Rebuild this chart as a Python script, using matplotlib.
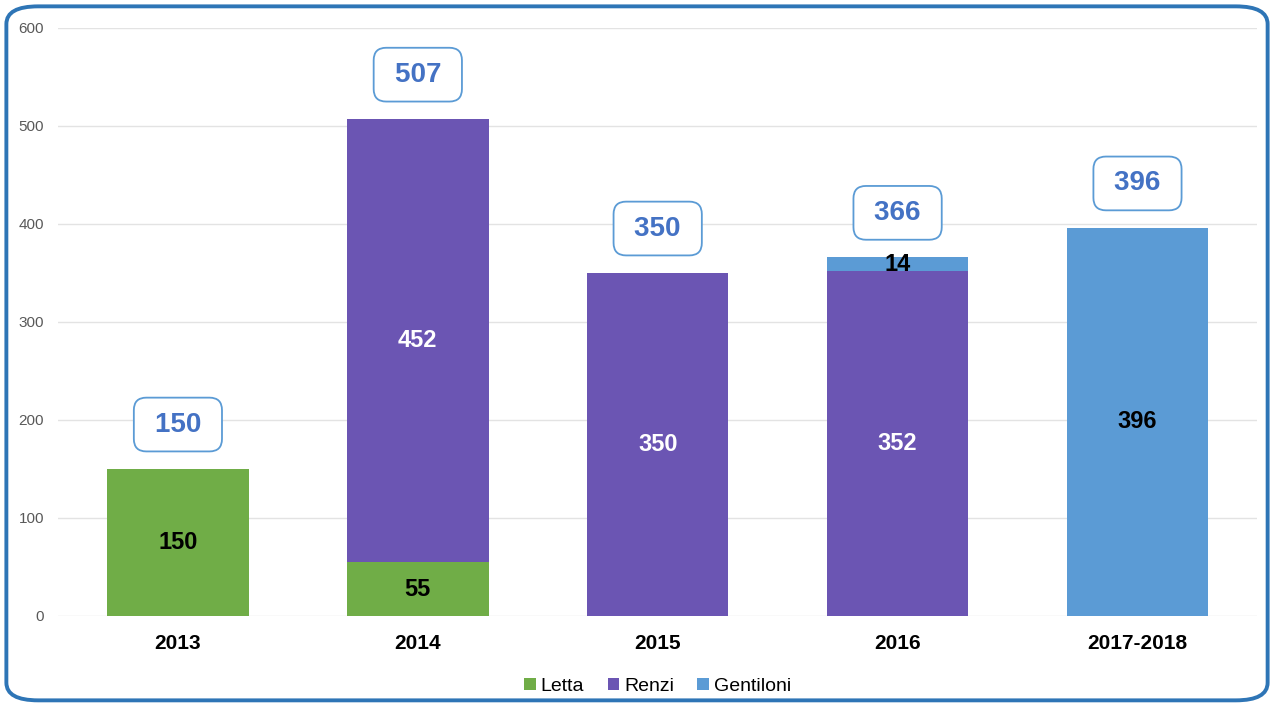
import matplotlib.pyplot as plt
from matplotlib.patches import FancyBboxPatch
import numpy as np

plt.rcParams['font.family'] = ['Liberation Sans', 'DejaVu Sans']

years = ['2013', '2014', '2015', '2016', '2017-2018']
letta = [150, 55, 0, 0, 0]
renzi = [0, 452, 350, 352, 0]
gentiloni = [0, 0, 0, 14, 396]
totals = [150, 507, 350, 366, 396]

c_letta = '#70AD47'
c_renzi = '#6B55B3'
c_gent = '#5B9BD5'

fig = plt.figure(figsize=(12.74, 7.06), dpi=100)
ax = fig.add_axes([0.0455, 0.1275, 0.9415, 0.8329])

x = np.arange(len(years))
w = 0.59
b1 = ax.bar(x, letta, w, color=c_letta, label='Letta', zorder=3)
b2 = ax.bar(x, renzi, w, bottom=letta, color=c_renzi, label='Renzi', zorder=3)
bottom3 = np.array(letta) + np.array(renzi)
b3 = ax.bar(x, gentiloni, w, bottom=bottom3, color=c_gent, label='Gentiloni', zorder=3)

# labels inside segments
for bars, vals, col in [(b1, letta, 'black'), (b2, renzi, 'white'), (b3, gentiloni, 'black')]:
    for rect, v in zip(bars, vals):
        if v == 0:
            continue
        yc = rect.get_y() + rect.get_height() / 2
        ax.text(rect.get_x() + rect.get_width() / 2, yc, str(v), ha='center', va='center',
                fontsize=17, fontweight='bold', color=col, zorder=4)

# totals in rounded boxes
for xi, t in zip(x, totals):
    ax.annotate('\u2005' + str(t) + '\u2005', (xi, t), xytext=(0, 32), textcoords='offset points',
                ha='center', va='center', fontsize=20, fontweight='bold', color='#4472C4',
                bbox=dict(boxstyle='round,pad=0.5,rounding_size=0.45', fc='white', ec=c_gent, lw=1.3),
                zorder=5)

ax.set_xlim(-0.5, 4.5)
ax.set_ylim(0, 600)
ax.set_yticks(range(0, 601, 100))
ax.set_xticks(x)
ax.set_xticklabels(years, fontsize=15, fontweight='bold')
ax.tick_params(axis='x', length=0, pad=13)
ax.tick_params(axis='y', length=0, pad=10, labelsize=11, labelcolor='#595959')
ax.grid(axis='y', color='#E3E3E3', lw=1, zorder=0)
for s in ax.spines.values():
    s.set_visible(False)

ax.legend(loc='upper center', bbox_to_anchor=(0.5, -0.075), ncol=3, frameon=False,
          fontsize=14, handlelength=0.6, handleheight=0.6, handletextpad=0.25, columnspacing=1.2)

border = FancyBboxPatch((0.005, 0.008), 0.99, 0.983, boxstyle='round,pad=0,rounding_size=0.025',
                        transform=fig.transFigure, fc='none', ec='#2E75B6', lw=2.8)
fig.patches.append(border)

fig.savefig('out.png', dpi=100)
